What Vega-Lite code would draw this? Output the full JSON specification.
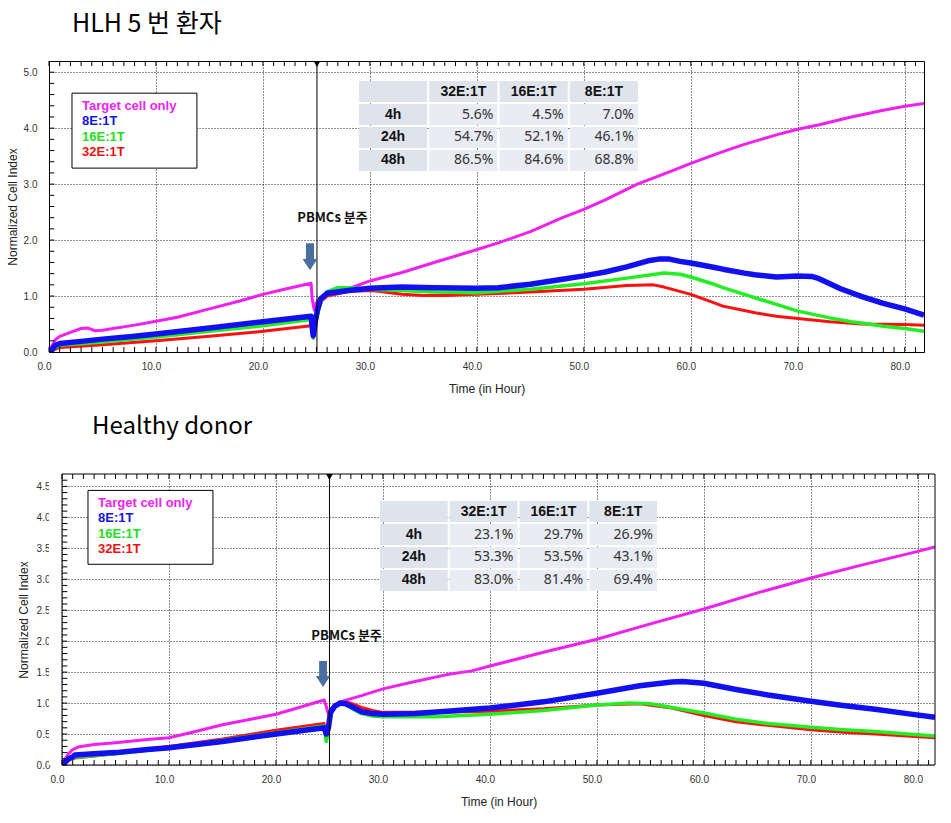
{
  "$schema": "https://vega.github.io/schema/vega-lite/v6.json",
  "padding": {"left": 5, "top": 11, "right": 5, "bottom": 5},
  "background": "#ffffff",
  "config": {
    "view": {"stroke": "#000", "strokeWidth": 1},
    "font": "Liberation Sans",
    "title": {"font": "Noto Sans CJK KR", "fontSize": 24, "fontWeight": "normal", "color": "#000"}
  },
  "spacing": 19,
  "resolve": {"scale": {"color": "independent", "strokeWidth": "independent"}},
  "datasets": {
    "hlh": [
      {"s":"Target cell only","t":0,"v":0},{"s":"Target cell only","t":0.3,"v":0.12},{"s":"Target cell only","t":0.6,"v":0.22},{"s":"Target cell only","t":1,"v":0.28},{"s":"Target cell only","t":2,"v":0.35},{"s":"Target cell only","t":3,"v":0.42},{"s":"Target cell only","t":3.6,"v":0.43},{"s":"Target cell only","t":4.3,"v":0.38},{"s":"Target cell only","t":5,"v":0.39},{"s":"Target cell only","t":6,"v":0.42},{"s":"Target cell only","t":8,"v":0.48},{"s":"Target cell only","t":10,"v":0.55},{"s":"Target cell only","t":12,"v":0.62},{"s":"Target cell only","t":15,"v":0.77},{"s":"Target cell only","t":18,"v":0.92},{"s":"Target cell only","t":20,"v":1.03},{"s":"Target cell only","t":22,"v":1.12},{"s":"Target cell only","t":24.5,"v":1.23},{"s":"Target cell only","t":24.6,"v":0.95},{"s":"Target cell only","t":24.8,"v":0.75},{"s":"Target cell only","t":25,"v":0.88},{"s":"Target cell only","t":25.3,"v":0.96},{"s":"Target cell only","t":26,"v":1.03},{"s":"Target cell only","t":28,"v":1.13},{"s":"Target cell only","t":30,"v":1.27},{"s":"Target cell only","t":33,"v":1.42},{"s":"Target cell only","t":36,"v":1.6},{"s":"Target cell only","t":39.5,"v":1.8},{"s":"Target cell only","t":42,"v":1.95},{"s":"Target cell only","t":45,"v":2.15},{"s":"Target cell only","t":48,"v":2.4},{"s":"Target cell only","t":50,"v":2.55},{"s":"Target cell only","t":52,"v":2.72},{"s":"Target cell only","t":55,"v":3.0},{"s":"Target cell only","t":58,"v":3.22},{"s":"Target cell only","t":60,"v":3.37},{"s":"Target cell only","t":63,"v":3.58},{"s":"Target cell only","t":65,"v":3.71},{"s":"Target cell only","t":68,"v":3.88},{"s":"Target cell only","t":70,"v":3.98},{"s":"Target cell only","t":72,"v":4.06},{"s":"Target cell only","t":75,"v":4.2},{"s":"Target cell only","t":78,"v":4.32},{"s":"Target cell only","t":80,"v":4.39},{"s":"Target cell only","t":81.8,"v":4.44},
      {"s":"32E:1T","t":0,"v":0},{"s":"32E:1T","t":0.6,"v":0.05},{"s":"32E:1T","t":1,"v":0.08},{"s":"32E:1T","t":5,"v":0.13},{"s":"32E:1T","t":10,"v":0.2},{"s":"32E:1T","t":15,"v":0.28},{"s":"32E:1T","t":20,"v":0.37},{"s":"32E:1T","t":24.5,"v":0.47},{"s":"32E:1T","t":24.7,"v":0.25},{"s":"32E:1T","t":24.9,"v":0.5},{"s":"32E:1T","t":25.2,"v":0.75},{"s":"32E:1T","t":25.5,"v":0.92},{"s":"32E:1T","t":26,"v":1.0},{"s":"32E:1T","t":28,"v":1.08},{"s":"32E:1T","t":30,"v":1.1},{"s":"32E:1T","t":31,"v":1.08},{"s":"32E:1T","t":33,"v":1.03},{"s":"32E:1T","t":35,"v":1.01},{"s":"32E:1T","t":37,"v":1.01},{"s":"32E:1T","t":40,"v":1.03},{"s":"32E:1T","t":45,"v":1.07},{"s":"32E:1T","t":50,"v":1.12},{"s":"32E:1T","t":54,"v":1.19},{"s":"32E:1T","t":56.5,"v":1.2},{"s":"32E:1T","t":57.5,"v":1.16},{"s":"32E:1T","t":60,"v":1.03},{"s":"32E:1T","t":62,"v":0.89},{"s":"32E:1T","t":63,"v":0.82},{"s":"32E:1T","t":65,"v":0.74},{"s":"32E:1T","t":66,"v":0.7},{"s":"32E:1T","t":68,"v":0.64},{"s":"32E:1T","t":70,"v":0.6},{"s":"32E:1T","t":73,"v":0.54},{"s":"32E:1T","t":76,"v":0.5},{"s":"32E:1T","t":80,"v":0.49},{"s":"32E:1T","t":81.8,"v":0.48},
      {"s":"16E:1T","t":0,"v":0},{"s":"16E:1T","t":0.6,"v":0.08},{"s":"16E:1T","t":1,"v":0.12},{"s":"16E:1T","t":5,"v":0.18},{"s":"16E:1T","t":10,"v":0.27},{"s":"16E:1T","t":15,"v":0.37},{"s":"16E:1T","t":20,"v":0.47},{"s":"16E:1T","t":24.5,"v":0.58},{"s":"16E:1T","t":24.7,"v":0.25},{"s":"16E:1T","t":24.9,"v":0.5},{"s":"16E:1T","t":25.2,"v":0.75},{"s":"16E:1T","t":25.5,"v":0.95},{"s":"16E:1T","t":26,"v":1.08},{"s":"16E:1T","t":27,"v":1.15},{"s":"16E:1T","t":28,"v":1.15},{"s":"16E:1T","t":30,"v":1.12},{"s":"16E:1T","t":33,"v":1.1},{"s":"16E:1T","t":36,"v":1.07},{"s":"16E:1T","t":40,"v":1.06},{"s":"16E:1T","t":45,"v":1.12},{"s":"16E:1T","t":50,"v":1.22},{"s":"16E:1T","t":54,"v":1.32},{"s":"16E:1T","t":57.5,"v":1.41},{"s":"16E:1T","t":59,"v":1.39},{"s":"16E:1T","t":60,"v":1.34},{"s":"16E:1T","t":62,"v":1.22},{"s":"16E:1T","t":63,"v":1.15},{"s":"16E:1T","t":65,"v":1.03},{"s":"16E:1T","t":66,"v":0.97},{"s":"16E:1T","t":68,"v":0.85},{"s":"16E:1T","t":70,"v":0.73},{"s":"16E:1T","t":72,"v":0.65},{"s":"16E:1T","t":73,"v":0.61},{"s":"16E:1T","t":75,"v":0.54},{"s":"16E:1T","t":76.3,"v":0.51},{"s":"16E:1T","t":78,"v":0.46},{"s":"16E:1T","t":80,"v":0.42},{"s":"16E:1T","t":81.8,"v":0.37},
      {"s":"8E:1T","t":0,"v":0},{"s":"8E:1T","t":0.3,"v":0.05},{"s":"8E:1T","t":0.6,"v":0.12},{"s":"8E:1T","t":1,"v":0.15},{"s":"8E:1T","t":3,"v":0.19},{"s":"8E:1T","t":5,"v":0.23},{"s":"8E:1T","t":8,"v":0.28},{"s":"8E:1T","t":10,"v":0.32},{"s":"8E:1T","t":15,"v":0.43},{"s":"8E:1T","t":20,"v":0.54},{"s":"8E:1T","t":24.5,"v":0.64},{"s":"8E:1T","t":24.6,"v":0.45},{"s":"8E:1T","t":24.7,"v":0.29},{"s":"8E:1T","t":24.9,"v":0.55},{"s":"8E:1T","t":25.1,"v":0.75},{"s":"8E:1T","t":25.4,"v":0.95},{"s":"8E:1T","t":26,"v":1.05},{"s":"8E:1T","t":28,"v":1.1},{"s":"8E:1T","t":30,"v":1.14},{"s":"8E:1T","t":33,"v":1.16},{"s":"8E:1T","t":36,"v":1.15},{"s":"8E:1T","t":40,"v":1.14},{"s":"8E:1T","t":42,"v":1.15},{"s":"8E:1T","t":45,"v":1.21},{"s":"8E:1T","t":48,"v":1.3},{"s":"8E:1T","t":50,"v":1.36},{"s":"8E:1T","t":52,"v":1.43},{"s":"8E:1T","t":54,"v":1.52},{"s":"8E:1T","t":56,"v":1.63},{"s":"8E:1T","t":57,"v":1.66},{"s":"8E:1T","t":58,"v":1.66},{"s":"8E:1T","t":59,"v":1.62},{"s":"8E:1T","t":60,"v":1.59},{"s":"8E:1T","t":62,"v":1.52},{"s":"8E:1T","t":63,"v":1.48},{"s":"8E:1T","t":65,"v":1.41},{"s":"8E:1T","t":66,"v":1.38},{"s":"8E:1T","t":68,"v":1.34},{"s":"8E:1T","t":70,"v":1.36},{"s":"8E:1T","t":71.3,"v":1.35},{"s":"8E:1T","t":72,"v":1.31},{"s":"8E:1T","t":73,"v":1.22},{"s":"8E:1T","t":74,"v":1.13},{"s":"8E:1T","t":76,"v":0.99},{"s":"8E:1T","t":78,"v":0.87},{"s":"8E:1T","t":80,"v":0.77},{"s":"8E:1T","t":81.8,"v":0.66}
    ],
    "healthy": [
      {"s":"Target cell only","t":0,"v":0},{"s":"Target cell only","t":0.3,"v":0.1},{"s":"Target cell only","t":0.6,"v":0.18},{"s":"Target cell only","t":1,"v":0.25},{"s":"Target cell only","t":1.5,"v":0.29},{"s":"Target cell only","t":3,"v":0.33},{"s":"Target cell only","t":5,"v":0.36},{"s":"Target cell only","t":8,"v":0.41},{"s":"Target cell only","t":10,"v":0.44},{"s":"Target cell only","t":12,"v":0.52},{"s":"Target cell only","t":15,"v":0.65},{"s":"Target cell only","t":18,"v":0.75},{"s":"Target cell only","t":20,"v":0.82},{"s":"Target cell only","t":22,"v":0.92},{"s":"Target cell only","t":24.5,"v":1.05},{"s":"Target cell only","t":24.7,"v":0.95},{"s":"Target cell only","t":24.9,"v":0.82},{"s":"Target cell only","t":25.1,"v":0.9},{"s":"Target cell only","t":25.5,"v":0.97},{"s":"Target cell only","t":26,"v":1.02},{"s":"Target cell only","t":28,"v":1.12},{"s":"Target cell only","t":30,"v":1.23},{"s":"Target cell only","t":33,"v":1.35},{"s":"Target cell only","t":36,"v":1.46},{"s":"Target cell only","t":38.3,"v":1.52},{"s":"Target cell only","t":40,"v":1.6},{"s":"Target cell only","t":45,"v":1.82},{"s":"Target cell only","t":50,"v":2.03},{"s":"Target cell only","t":55,"v":2.28},{"s":"Target cell only","t":60,"v":2.52},{"s":"Target cell only","t":65,"v":2.78},{"s":"Target cell only","t":70,"v":3.02},{"s":"Target cell only","t":75,"v":3.24},{"s":"Target cell only","t":80,"v":3.45},{"s":"Target cell only","t":81.6,"v":3.52},
      {"s":"32E:1T","t":0,"v":0},{"s":"32E:1T","t":0.6,"v":0.07},{"s":"32E:1T","t":1,"v":0.11},{"s":"32E:1T","t":5,"v":0.18},{"s":"32E:1T","t":10,"v":0.3},{"s":"32E:1T","t":15,"v":0.42},{"s":"32E:1T","t":20,"v":0.56},{"s":"32E:1T","t":24.5,"v":0.67},{"s":"32E:1T","t":24.7,"v":0.5},{"s":"32E:1T","t":24.9,"v":0.6},{"s":"32E:1T","t":25.2,"v":0.85},{"s":"32E:1T","t":25.6,"v":0.97},{"s":"32E:1T","t":26,"v":1.02},{"s":"32E:1T","t":27,"v":1.0},{"s":"32E:1T","t":28,"v":0.93},{"s":"32E:1T","t":29,"v":0.88},{"s":"32E:1T","t":30,"v":0.85},{"s":"32E:1T","t":35,"v":0.85},{"s":"32E:1T","t":40,"v":0.87},{"s":"32E:1T","t":45,"v":0.91},{"s":"32E:1T","t":50,"v":0.97},{"s":"32E:1T","t":54,"v":0.99},{"s":"32E:1T","t":57,"v":0.92},{"s":"32E:1T","t":60,"v":0.8},{"s":"32E:1T","t":63,"v":0.7},{"s":"32E:1T","t":66,"v":0.64},{"s":"32E:1T","t":70,"v":0.57},{"s":"32E:1T","t":73,"v":0.53},{"s":"32E:1T","t":76,"v":0.5},{"s":"32E:1T","t":79,"v":0.47},{"s":"32E:1T","t":81.6,"v":0.44},
      {"s":"16E:1T","t":0,"v":0},{"s":"16E:1T","t":0.6,"v":0.08},{"s":"16E:1T","t":1,"v":0.12},{"s":"16E:1T","t":5,"v":0.18},{"s":"16E:1T","t":10,"v":0.28},{"s":"16E:1T","t":15,"v":0.4},{"s":"16E:1T","t":20,"v":0.52},{"s":"16E:1T","t":24.5,"v":0.63},{"s":"16E:1T","t":24.7,"v":0.38},{"s":"16E:1T","t":24.9,"v":0.55},{"s":"16E:1T","t":25.2,"v":0.85},{"s":"16E:1T","t":25.6,"v":0.97},{"s":"16E:1T","t":26,"v":1.02},{"s":"16E:1T","t":26.5,"v":1.0},{"s":"16E:1T","t":27,"v":0.92},{"s":"16E:1T","t":28,"v":0.83},{"s":"16E:1T","t":29,"v":0.79},{"s":"16E:1T","t":30,"v":0.78},{"s":"16E:1T","t":35,"v":0.78},{"s":"16E:1T","t":40,"v":0.82},{"s":"16E:1T","t":45,"v":0.88},{"s":"16E:1T","t":50,"v":0.97},{"s":"16E:1T","t":53,"v":1.0},{"s":"16E:1T","t":55,"v":0.99},{"s":"16E:1T","t":57,"v":0.93},{"s":"16E:1T","t":60,"v":0.84},{"s":"16E:1T","t":63,"v":0.74},{"s":"16E:1T","t":66,"v":0.67},{"s":"16E:1T","t":70,"v":0.61},{"s":"16E:1T","t":73,"v":0.57},{"s":"16E:1T","t":76,"v":0.54},{"s":"16E:1T","t":79,"v":0.5},{"s":"16E:1T","t":81.6,"v":0.47},
      {"s":"8E:1T","t":0,"v":0},{"s":"8E:1T","t":0.3,"v":0.05},{"s":"8E:1T","t":0.6,"v":0.1},{"s":"8E:1T","t":1,"v":0.13},{"s":"8E:1T","t":1.2,"v":0.16},{"s":"8E:1T","t":3,"v":0.18},{"s":"8E:1T","t":5,"v":0.2},{"s":"8E:1T","t":8,"v":0.25},{"s":"8E:1T","t":10,"v":0.28},{"s":"8E:1T","t":15,"v":0.38},{"s":"8E:1T","t":20,"v":0.5},{"s":"8E:1T","t":24.5,"v":0.6},{"s":"8E:1T","t":24.7,"v":0.5},{"s":"8E:1T","t":24.9,"v":0.6},{"s":"8E:1T","t":25.1,"v":0.85},{"s":"8E:1T","t":25.5,"v":0.95},{"s":"8E:1T","t":26,"v":1.0},{"s":"8E:1T","t":26.5,"v":0.99},{"s":"8E:1T","t":27,"v":0.95},{"s":"8E:1T","t":28,"v":0.86},{"s":"8E:1T","t":29,"v":0.83},{"s":"8E:1T","t":30,"v":0.82},{"s":"8E:1T","t":33,"v":0.83},{"s":"8E:1T","t":36,"v":0.87},{"s":"8E:1T","t":40,"v":0.92},{"s":"8E:1T","t":45,"v":1.02},{"s":"8E:1T","t":50,"v":1.16},{"s":"8E:1T","t":54,"v":1.28},{"s":"8E:1T","t":57,"v":1.34},{"s":"8E:1T","t":58,"v":1.35},{"s":"8E:1T","t":60,"v":1.32},{"s":"8E:1T","t":63,"v":1.22},{"s":"8E:1T","t":66,"v":1.13},{"s":"8E:1T","t":70,"v":1.03},{"s":"8E:1T","t":73,"v":0.96},{"s":"8E:1T","t":76,"v":0.9},{"s":"8E:1T","t":79,"v":0.83},{"s":"8E:1T","t":81.6,"v":0.77}
    ],
    "tab_hlh": [
      {"row":"hd","col":"rl","label":"","kind":"h"},{"row":"hd","col":"32E:1T","label":"32E:1T","kind":"h"},{"row":"hd","col":"16E:1T","label":"16E:1T","kind":"h"},{"row":"hd","col":"8E:1T","label":"8E:1T","kind":"h"},
      {"row":"4h","col":"rl","label":"4h","kind":"h"},{"row":"4h","col":"32E:1T","label":"5.6%","kind":"v"},{"row":"4h","col":"16E:1T","label":"4.5%","kind":"v"},{"row":"4h","col":"8E:1T","label":"7.0%","kind":"v"},
      {"row":"24h","col":"rl","label":"24h","kind":"h"},{"row":"24h","col":"32E:1T","label":"54.7%","kind":"v"},{"row":"24h","col":"16E:1T","label":"52.1%","kind":"v"},{"row":"24h","col":"8E:1T","label":"46.1%","kind":"v"},
      {"row":"48h","col":"rl","label":"48h","kind":"h"},{"row":"48h","col":"32E:1T","label":"86.5%","kind":"v"},{"row":"48h","col":"16E:1T","label":"84.6%","kind":"v"},{"row":"48h","col":"8E:1T","label":"68.8%","kind":"v"}
    ],
    "tab_healthy": [
      {"row":"hd","col":"rl","label":"","kind":"h"},{"row":"hd","col":"32E:1T","label":"32E:1T","kind":"h"},{"row":"hd","col":"16E:1T","label":"16E:1T","kind":"h"},{"row":"hd","col":"8E:1T","label":"8E:1T","kind":"h"},
      {"row":"4h","col":"rl","label":"4h","kind":"h"},{"row":"4h","col":"32E:1T","label":"23.1%","kind":"v"},{"row":"4h","col":"16E:1T","label":"29.7%","kind":"v"},{"row":"4h","col":"8E:1T","label":"26.9%","kind":"v"},
      {"row":"24h","col":"rl","label":"24h","kind":"h"},{"row":"24h","col":"32E:1T","label":"53.3%","kind":"v"},{"row":"24h","col":"16E:1T","label":"53.5%","kind":"v"},{"row":"24h","col":"8E:1T","label":"43.1%","kind":"v"},
      {"row":"48h","col":"rl","label":"48h","kind":"h"},{"row":"48h","col":"32E:1T","label":"83.0%","kind":"v"},{"row":"48h","col":"16E:1T","label":"81.4%","kind":"v"},{"row":"48h","col":"8E:1T","label":"69.4%","kind":"v"}
    ],
    "xt": [{"t":0},{"t":1},{"t":2},{"t":3},{"t":4},{"t":5},{"t":6},{"t":7},{"t":8},{"t":9},{"t":10},{"t":11},{"t":12},{"t":13},{"t":14},{"t":15},{"t":16},{"t":17},{"t":18},{"t":19},{"t":20},{"t":21},{"t":22},{"t":23},{"t":24},{"t":25},{"t":26},{"t":27},{"t":28},{"t":29},{"t":30},{"t":31},{"t":32},{"t":33},{"t":34},{"t":35},{"t":36},{"t":37},{"t":38},{"t":39},{"t":40},{"t":41},{"t":42},{"t":43},{"t":44},{"t":45},{"t":46},{"t":47},{"t":48},{"t":49},{"t":50},{"t":51},{"t":52},{"t":53},{"t":54},{"t":55},{"t":56},{"t":57},{"t":58},{"t":59},{"t":60},{"t":61},{"t":62},{"t":63},{"t":64},{"t":65},{"t":66},{"t":67},{"t":68},{"t":69},{"t":70},{"t":71},{"t":72},{"t":73},{"t":74},{"t":75},{"t":76},{"t":77},{"t":78},{"t":79},{"t":80},{"t":81}],
    "yt_top": [{"v":0},{"v":0.2},{"v":0.4},{"v":0.6},{"v":0.8},{"v":1},{"v":1.2},{"v":1.4},{"v":1.6},{"v":1.8},{"v":2},{"v":2.2},{"v":2.4},{"v":2.6},{"v":2.8},{"v":3},{"v":3.2},{"v":3.4},{"v":3.6},{"v":3.8},{"v":4},{"v":4.2},{"v":4.4},{"v":4.6},{"v":4.8},{"v":5}],
    "yt_bot": [{"v":0},{"v":0.1},{"v":0.2},{"v":0.3},{"v":0.4},{"v":0.5},{"v":0.6},{"v":0.7},{"v":0.8},{"v":0.9},{"v":1},{"v":1.1},{"v":1.2},{"v":1.3},{"v":1.4},{"v":1.5},{"v":1.6},{"v":1.7},{"v":1.8},{"v":1.9},{"v":2},{"v":2.1},{"v":2.2},{"v":2.3},{"v":2.4},{"v":2.5},{"v":2.6},{"v":2.7},{"v":2.8},{"v":2.9},{"v":3},{"v":3.1},{"v":3.2},{"v":3.3},{"v":3.4},{"v":3.5},{"v":3.6},{"v":3.7},{"v":3.8},{"v":3.9},{"v":4},{"v":4.1},{"v":4.2},{"v":4.3},{"v":4.4},{"v":4.5},{"v":4.6}],
    "one": [{}]
  },
  "vconcat": [
    {
      "width": 875,
      "height": 291,
      "title": {"text": "HLH 5 번 환자", "anchor": "start", "frame": "group", "dx": 23, "offset": 24, "fontSize": 25},
      "resolve": {"scale": {"x": "independent", "y": "independent"}},
      "layer": [
        {
          "resolve": {"axis": {"x": "independent", "y": "independent"}},
          "layer": [
            {
              "data": {"name": "hlh"},
              "mark": {"type": "line", "strokeJoin": "round", "clip": true},
              "encoding": {
                "x": {"field": "t", "type": "quantitative", "scale": {"domain": [0, 81.8], "nice": false, "zero": false},
                  "axis": {"values": [0,10,20,30,40,50,60,70,80], "format": ".1f", "grid": true, "gridColor": "#000", "gridDash": [1,2], "gridOpacity": 0.9, "ticks": false, "domain": false, "labelFont": "Liberation Sans", "labelFontSize": 10, "labelColor": "#333", "labelPadding": 9, "labelOffset": -5, "labelFlush": false, "title": "Time (in Hour)", "titleFont": "Liberation Sans", "titleFontSize": 12, "titleFontWeight": "normal", "titleColor": "#222", "titlePadding": 12}},
                "y": {"field": "v", "type": "quantitative", "scale": {"domain": [0, 5.2], "nice": false},
                  "axis": {"values": [0,1,2,3,4,5], "format": ".1f", "grid": true, "gridColor": "#000", "gridDash": [1,2], "gridOpacity": 0.9, "ticks": false, "domain": false, "labelFont": "Liberation Sans", "labelFontSize": 10, "labelColor": "#333", "labelPadding": 12, "labelFlush": false, "title": "Normalized Cell Index", "titleFont": "Liberation Sans", "titleFontSize": 12, "titleFontWeight": "normal", "titleColor": "#222", "titlePadding": 4}},
                "color": {"field": "s", "type": "nominal",
                  "scale": {"domain": ["Target cell only", "8E:1T", "16E:1T", "32E:1T"], "range": ["#f020f0", "#1010f0", "#22ee22", "#ff1010"]},
                  "legend": {"orient": "none", "legendX": 20, "legendY": 38, "title": null, "symbolType": "circle", "symbolSize": 0, "symbolStrokeWidth": 0, "symbolOpacity": 0, "labelOffset": 0, "padding": 0, "rowPadding": 1.5, "labelFont": "Liberation Sans", "labelFontSize": 13, "labelFontWeight": "bold",
                    "encode": {"labels": {"update": {"fill": {"signal": "datum.label === 'Target cell only' ? '#ee22ee' : datum.label === '8E:1T' ? '#1515e0' : datum.label === '16E:1T' ? '#22dd22' : '#ee1111'"}}}}}},
                "strokeWidth": {"field": "s", "type": "nominal", "scale": {"type": "ordinal", "domain": ["Target cell only", "8E:1T", "16E:1T", "32E:1T"], "range": [3, 5.5, 3.5, 3]}, "legend": null}
              }
            },
            {
              "data": {"name": "xt"},
              "mark": {"type": "rule", "color": "#000", "strokeWidth": 1},
              "encoding": {
                "x": {"field": "t", "type": "quantitative", "scale": {"domain": [0, 81.8], "nice": false, "zero": false}, "axis": null},
                "y": {"datum": 0, "type": "quantitative", "scale": {"domain": [0, 5.2], "nice": false}, "axis": null},
                "y2": {"datum": 0.09}
              }
            },
            {
              "data": {"name": "xt"},
              "mark": {"type": "rule", "color": "#000", "strokeWidth": 1},
              "encoding": {
                "x": {"field": "t", "type": "quantitative", "scale": {"domain": [0, 81.8], "nice": false, "zero": false}, "axis": null},
                "y": {"datum": 5.2, "type": "quantitative", "scale": {"domain": [0, 5.2], "nice": false}, "axis": null},
                "y2": {"datum": 5.11}
              }
            },
            {
              "data": {"name": "yt_top"},
              "mark": {"type": "rule", "color": "#000", "strokeWidth": 1},
              "encoding": {
                "y": {"field": "v", "type": "quantitative", "scale": {"domain": [0, 5.2], "nice": false}, "axis": null},
                "x": {"datum": 0, "type": "quantitative", "scale": {"domain": [0, 81.8], "nice": false, "zero": false}, "axis": null},
                "x2": {"datum": 0.5}
              }
            },
            {
              "data": {"name": "one"},
              "mark": {"type": "rule", "color": "#000", "strokeWidth": 1},
              "encoding": {
                "x": {"datum": 25.05, "type": "quantitative", "scale": {"domain": [0, 81.8], "nice": false, "zero": false}, "axis": null}
              }
            },
            {
              "data": {"name": "one"},
              "mark": {"type": "point", "shape": "triangle-down", "filled": true, "color": "#000", "opacity": 1, "size": 45, "yOffset": 3},
              "encoding": {
                "x": {"datum": 25.05, "type": "quantitative", "scale": {"domain": [0, 81.8], "nice": false, "zero": false}, "axis": null},
                "y": {"datum": 5.2, "type": "quantitative", "scale": {"domain": [0, 5.2], "nice": false}, "axis": null}
              }
            },
            {
              "data": {"name": "one"},
              "mark": {"type": "point", "shape": "M-0.3,-1L0.3,-1L0.3,0.15L0.55,0.15L0,1L-0.55,0.15L-0.3,0.15Z", "filled": true, "color": "#4a6e9e", "opacity": 1, "size": 729},
              "encoding": {
                "x": {"datum": 24.4, "type": "quantitative", "scale": {"domain": [0, 81.8], "nice": false, "zero": false}, "axis": null},
                "y": {"datum": 1.7, "type": "quantitative", "scale": {"domain": [0, 5.2], "nice": false}, "axis": null}
              }
            },
            {
              "data": {"name": "one"},
              "mark": {"type": "text", "text": "PBMCs 분주", "font": "Noto Sans CJK KR", "fontWeight": "bold", "fontSize": 13, "color": "#111"},
              "encoding": {
                "x": {"datum": 26.5, "type": "quantitative", "scale": {"domain": [0, 81.8], "nice": false, "zero": false}, "axis": null},
                "y": {"datum": 2.39, "type": "quantitative", "scale": {"domain": [0, 5.2], "nice": false}, "axis": null}
              }
            },
            {
              "data": {"name": "one"},
              "mark": {"type": "rect", "fill": "#fff", "stroke": "#000", "strokeWidth": 1},
              "encoding": {
                "x": {"datum": 2.15, "type": "quantitative", "scale": {"domain": [0, 81.8], "nice": false, "zero": false}, "axis": null},
                "x2": {"datum": 13.83},
                "y": {"datum": 4.625, "type": "quantitative", "scale": {"domain": [0, 5.2], "nice": false}, "axis": null},
                "y2": {"datum": 3.286}
              }
            }
          ]
        },
        {
          "data": {"name": "tab_hlh"},
          "layer": [
            {
              "mark": {"type": "rect"},
              "encoding": {
                "x": {"field": "col", "type": "nominal", "scale": {"domain": ["rl", "32E:1T", "16E:1T", "8E:1T"], "range": [310, 589], "paddingInner": 0.03, "paddingOuter": 0}, "axis": null},
                "y": {"field": "row", "type": "nominal", "scale": {"domain": ["hd", "4h", "24h", "48h"], "range": [20, 110], "paddingInner": 0.08, "paddingOuter": 0}, "axis": null},
                "fill": {"condition": {"test": "datum.kind === 'h'", "value": "#dfe4ec"}, "value": "#e9ecf2"}
              }
            },
            {
              "transform": [{"filter": "datum.kind === 'h'"}],
              "mark": {"type": "text", "font": "Liberation Sans", "fontWeight": "bold", "fontSize": 14, "color": "#111"},
              "encoding": {
                "x": {"field": "col", "type": "nominal", "axis": null},
                "y": {"field": "row", "type": "nominal", "axis": null},
                "text": {"field": "label"}
              }
            },
            {
              "transform": [{"filter": "datum.kind === 'v'"}],
              "mark": {"type": "text", "font": "Noto Sans", "fontSize": 14, "color": "#333", "align": "right", "dx": -4},
              "encoding": {
                "x": {"field": "col", "type": "nominal", "bandPosition": 1, "axis": null},
                "y": {"field": "row", "type": "nominal", "axis": null},
                "text": {"field": "label"}
              }
            }
          ]
        }
      ]
    },
    {
      "width": 886,
      "height": 291,
      "view": {"stroke": null},
      "title": {"text": "Healthy donor", "anchor": "start", "frame": "group", "dx": 43, "offset": 35},
      "resolve": {"scale": {"x": "independent", "y": "independent"}},
      "layer": [
        {
          "resolve": {"axis": {"x": "independent", "y": "independent"}},
          "layer": [
            {
              "data": {"name": "healthy"},
              "mark": {"type": "line", "strokeJoin": "round", "clip": true},
              "encoding": {
                "x": {"field": "t", "type": "quantitative", "scale": {"domain": [0, 81.6], "range": [13, 886], "nice": false, "zero": false},
                  "axis": {"values": [0,10,20,30,40,50,60,70,80], "format": ".1f", "grid": true, "gridColor": "#000", "gridDash": [1,2], "gridOpacity": 0.9, "ticks": false, "domain": false, "labelFont": "Liberation Sans", "labelFontSize": 10, "labelColor": "#333", "labelPadding": 9, "labelOffset": -5, "labelFlush": false, "title": "Time (in Hour)", "titleFont": "Liberation Sans", "titleFontSize": 12, "titleFontWeight": "normal", "titleColor": "#222", "titlePadding": 12}},
                "y": {"field": "v", "type": "quantitative", "scale": {"domain": [0, 4.7], "nice": false},
                  "axis": {"offset": -13, "values": [0,0.5,1,1.5,2,2.5,3,3.5,4,4.5], "format": ".1f", "grid": true, "gridColor": "#000", "gridDash": [1,2], "gridOpacity": 0.9, "ticks": false, "domain": false, "labelFont": "Liberation Sans", "labelFontSize": 10, "labelColor": "#333", "labelPadding": 12, "labelFlush": false, "title": "Normalized Cell Index", "titleFont": "Liberation Sans", "titleFontSize": 12, "titleFontWeight": "normal", "titleColor": "#222", "titlePadding": 6}},
                "color": {"field": "s", "type": "nominal",
                  "scale": {"domain": ["Target cell only", "8E:1T", "16E:1T", "32E:1T"], "range": ["#f020f0", "#1010f0", "#22ee22", "#ff1010"]},
                  "legend": {"orient": "none", "legendX": 36, "legendY": 22, "title": null, "symbolType": "circle", "symbolSize": 0, "symbolStrokeWidth": 0, "symbolOpacity": 0, "labelOffset": 0, "padding": 0, "rowPadding": 1.5, "labelFont": "Liberation Sans", "labelFontSize": 13, "labelFontWeight": "bold",
                    "encode": {"labels": {"update": {"fill": {"signal": "datum.label === 'Target cell only' ? '#ee22ee' : datum.label === '8E:1T' ? '#1515e0' : datum.label === '16E:1T' ? '#22dd22' : '#ee1111'"}}}}}},
                "strokeWidth": {"field": "s", "type": "nominal", "scale": {"type": "ordinal", "domain": ["Target cell only", "8E:1T", "16E:1T", "32E:1T"], "range": [3, 5.5, 3.5, 3]}, "legend": null}
              }
            },
            {
              "data": {"name": "one"},
              "mark": {"type": "rect", "fill": "#fff", "strokeWidth": 0},
              "encoding": {
                "x": {"datum": -1.22, "type": "quantitative", "scale": {"domain": [0, 81.6], "range": [13, 886], "nice": false, "zero": false}, "axis": null},
                "x2": {"datum": 0},
                "y": {"datum": 0, "type": "quantitative", "scale": {"domain": [0, 4.7], "nice": false}, "axis": null},
                "y2": {"datum": 4.7}
              }
            },
            {
              "data": {"name": "one"},
              "mark": {"type": "rect", "fill": "transparent", "stroke": "#000", "strokeWidth": 1},
              "encoding": {
                "x": {"datum": 0, "type": "quantitative", "scale": {"domain": [0, 81.6], "range": [13, 886], "nice": false, "zero": false}, "axis": null},
                "x2": {"datum": 81.6},
                "y": {"datum": 0, "type": "quantitative", "scale": {"domain": [0, 4.7], "nice": false}, "axis": null},
                "y2": {"datum": 4.7}
              }
            },
            {
              "data": {"name": "xt"},
              "mark": {"type": "rule", "color": "#000", "strokeWidth": 1},
              "encoding": {
                "x": {"field": "t", "type": "quantitative", "scale": {"domain": [0, 81.6], "range": [13, 886], "nice": false, "zero": false}, "axis": null},
                "y": {"datum": 0, "type": "quantitative", "scale": {"domain": [0, 4.7], "nice": false}, "axis": null},
                "y2": {"datum": 0.08}
              }
            },
            {
              "data": {"name": "xt"},
              "mark": {"type": "rule", "color": "#000", "strokeWidth": 1},
              "encoding": {
                "x": {"field": "t", "type": "quantitative", "scale": {"domain": [0, 81.6], "range": [13, 886], "nice": false, "zero": false}, "axis": null},
                "y": {"datum": 4.7, "type": "quantitative", "scale": {"domain": [0, 4.7], "nice": false}, "axis": null},
                "y2": {"datum": 4.62}
              }
            },
            {
              "data": {"name": "yt_bot"},
              "mark": {"type": "rule", "color": "#000", "strokeWidth": 1},
              "encoding": {
                "y": {"field": "v", "type": "quantitative", "scale": {"domain": [0, 4.7], "nice": false}, "axis": null},
                "x": {"datum": 0, "type": "quantitative", "scale": {"domain": [0, 81.6], "range": [13, 886], "nice": false, "zero": false}, "axis": null},
                "x2": {"datum": 0.5}
              }
            },
            {
              "data": {"name": "one"},
              "mark": {"type": "rule", "color": "#000", "strokeWidth": 1},
              "encoding": {
                "x": {"datum": 25.0, "type": "quantitative", "scale": {"domain": [0, 81.6], "range": [13, 886], "nice": false, "zero": false}, "axis": null}
              }
            },
            {
              "data": {"name": "one"},
              "mark": {"type": "point", "shape": "triangle-down", "filled": true, "color": "#000", "opacity": 1, "size": 45, "yOffset": 3},
              "encoding": {
                "x": {"datum": 25.0, "type": "quantitative", "scale": {"domain": [0, 81.6], "range": [13, 886], "nice": false, "zero": false}, "axis": null},
                "y": {"datum": 4.7, "type": "quantitative", "scale": {"domain": [0, 4.7], "nice": false}, "axis": null}
              }
            },
            {
              "data": {"name": "one"},
              "mark": {"type": "point", "shape": "M-0.3,-1L0.3,-1L0.3,0.15L0.55,0.15L0,1L-0.55,0.15L-0.3,0.15Z", "filled": true, "color": "#4a6e9e", "opacity": 1, "size": 676},
              "encoding": {
                "x": {"datum": 24.4, "type": "quantitative", "scale": {"domain": [0, 81.6], "range": [13, 886], "nice": false, "zero": false}, "axis": null},
                "y": {"datum": 1.47, "type": "quantitative", "scale": {"domain": [0, 4.7], "nice": false}, "axis": null}
              }
            },
            {
              "data": {"name": "one"},
              "mark": {"type": "text", "text": "PBMCs 분주", "font": "Noto Sans CJK KR", "fontWeight": "bold", "fontSize": 13, "color": "#111"},
              "encoding": {
                "x": {"datum": 26.6, "type": "quantitative", "scale": {"domain": [0, 81.6], "range": [13, 886], "nice": false, "zero": false}, "axis": null},
                "y": {"datum": 2.08, "type": "quantitative", "scale": {"domain": [0, 4.7], "nice": false}, "axis": null}
              }
            },
            {
              "data": {"name": "one"},
              "mark": {"type": "rect", "fill": "#fff", "stroke": "#000", "strokeWidth": 1},
              "encoding": {
                "x": {"datum": 2.43, "type": "quantitative", "scale": {"domain": [0, 81.6], "range": [13, 886], "nice": false, "zero": false}, "axis": null},
                "x2": {"datum": 14.11},
                "y": {"datum": 4.435, "type": "quantitative", "scale": {"domain": [0, 4.7], "nice": false}, "axis": null},
                "y2": {"datum": 3.242}
              }
            }
          ]
        },
        {
          "data": {"name": "tab_healthy"},
          "layer": [
            {
              "mark": {"type": "rect"},
              "encoding": {
                "x": {"field": "col", "type": "nominal", "scale": {"domain": ["rl", "32E:1T", "16E:1T", "8E:1T"], "range": [331, 608], "paddingInner": 0.03, "paddingOuter": 0}, "axis": null},
                "y": {"field": "row", "type": "nominal", "scale": {"domain": ["hd", "4h", "24h", "48h"], "range": [27, 117], "paddingInner": 0.08, "paddingOuter": 0}, "axis": null},
                "fill": {"condition": {"test": "datum.kind === 'h'", "value": "#dfe4ec"}, "value": "#e9ecf2"}
              }
            },
            {
              "transform": [{"filter": "datum.kind === 'h'"}],
              "mark": {"type": "text", "font": "Liberation Sans", "fontWeight": "bold", "fontSize": 14, "color": "#111"},
              "encoding": {
                "x": {"field": "col", "type": "nominal", "axis": null},
                "y": {"field": "row", "type": "nominal", "axis": null},
                "text": {"field": "label"}
              }
            },
            {
              "transform": [{"filter": "datum.kind === 'v'"}],
              "mark": {"type": "text", "font": "Noto Sans", "fontSize": 14, "color": "#333", "align": "right", "dx": -4},
              "encoding": {
                "x": {"field": "col", "type": "nominal", "bandPosition": 1, "axis": null},
                "y": {"field": "row", "type": "nominal", "axis": null},
                "text": {"field": "label"}
              }
            }
          ]
        }
      ]
    }
  ]
}
